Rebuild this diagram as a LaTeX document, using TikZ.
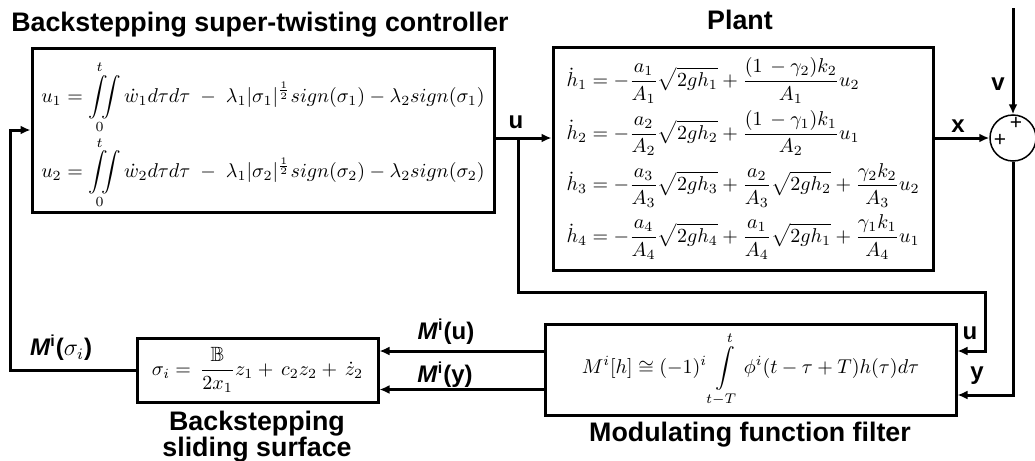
\documentclass[tikz,border=0pt]{standalone}
\usepackage[no-math]{fontspec}
\usepackage{amsmath,amssymb}
\newfontfamily\labfont{Liberation Sans}
\usetikzlibrary{positioning,calc,arrows.meta}

\begin{document}
\begin{tikzpicture}[x=0.5pt, y=-0.5pt,
        blk/.style = {draw, line width = 1.5pt, inner sep = 0pt},
        ttl/.style = {font = \labfont\bfseries\fontsize{13.4}{13}\selectfont, align = center},
        lbl/.style = {font = \labfont\bfseries\fontsize{12}{14}\selectfont, inner sep = 0pt},
        sig/.style = {line width = 1.5pt, -{Latex[length=5pt, width=4.5pt]}},
        wire/.style = {line width = 1.5pt}
    ]
        \useasboundingbox (0,0) rectangle (1035,461);

        \node[blk, minimum width = 231pt, minimum height = 82pt, font = \fontsize{9.8}{12}\selectfont] (ctrl) at (263,130) {\raisebox{-2.5pt}[\height][\depth]{$\begin{array}{@{}l@{}}
            \displaystyle u_1 = \iint\limits_0^t \dot{w}_1 d\tau d\tau \;-\; \lambda_1|\sigma_1|^{\frac{1}{2}}sign(\sigma_1) - \lambda_2 sign(\sigma_1)\\ \noalign{\vskip 1.5pt}
            \displaystyle u_2 = \iint\limits_0^t \dot{w}_2 d\tau d\tau \;-\; \lambda_1|\sigma_2|^{\frac{1}{2}}sign(\sigma_2) - \lambda_2 sign(\sigma_2)
        \end{array}$}};
        \node[blk, minimum width = 190pt, minimum height = 111.5pt, font = \fontsize{9.6}{12}\selectfont] (plant) at (743,158.5) {$\begin{array}{@{}l@{}}
            \displaystyle \dot{h}_1 = -\frac{a_1}{A_1}\sqrt{2gh_1} + \frac{(1\,-\gamma_2)k_2}{A_1}u_2\\[8.5pt]
            \displaystyle \dot{h}_2 = -\frac{a_2}{A_2}\sqrt{2gh_2} + \frac{(1\,-\gamma_1)k_1}{A_2}u_1\\[8.5pt]
            \displaystyle \dot{h}_3 = -\frac{a_3}{A_3}\sqrt{2gh_3} + \frac{a_2}{A_3}\sqrt{2gh_2} + \frac{\gamma_2k_2}{A_3}u_2\\[8.5pt]
            \displaystyle \dot{h}_4 = -\frac{a_4}{A_4}\sqrt{2gh_4} + \frac{a_1}{A_4}\sqrt{2gh_1} + \frac{\gamma_1k_1}{A_4}u_1
        \end{array}$};
        \node[blk, minimum width = 205.5pt, minimum height = 45.5pt, font = \fontsize{9.9}{12}\selectfont] (filt) at (750.5,369.5) {$\displaystyle M^i[h] \cong (-1)^i \int\limits_{t-T}^{t} \phi^i(t-\tau+T)h(\tau)d\tau$};
        \node[blk, minimum width = 120.5pt, minimum height = 32pt, font = \fontsize{10.3}{12}\selectfont] (surf) at (257.5,370) {$\displaystyle \sigma_i = \,\frac{\mathbb{B}}{2x_1}z_1 + \,c_2z_2 + \,\dot{z}_2$};
        \node[circle, draw, line width = 0.75pt, minimum size = 23pt, inner sep = 0pt] (sum) at (1013,138) {};
        \node[lbl, font = \labfont\fontsize{10.5}{12}\selectfont] (ptop) at (1016,123) {+};
        \node[lbl, font = \labfont\fontsize{10.5}{12}\selectfont] (pleft) at (1000,140) {+};

        \node[ttl] (tctrl) at (260,25) {Backstepping super-twisting controller};
        \node[ttl] (tplant) at (740,20) {Plant};
        \node[ttl] (tfilt) at (750,435) {Modulating function filter};
        \node[ttl] (tsurf) at (257,437) {Backstepping\\sliding surface};

        \node[lbl] (lu) at (516,122) {u};
        \node[lbl] (lx) at (958,126) {x};
        \node[lbl] (lv) at (998,84) {v};
        \node[lbl] (lu2) at (970,333) {u};
        \node[lbl] (ly) at (977,376) {y};
        \node[lbl] (lmu) at (446,332) {\textit{M}\textsuperscript{i}(u)};
        \node[lbl] (lmy) at (445,375) {\textit{M}\textsuperscript{i}(y)};
        \node[lbl] (lms) at (61,348) {\textit{M}\textsuperscript{i}($\sigma_i$)};

        \coordinate (ubr) at (518,138);
        \coordinate (ucor) at (985,292);
        \coordinate (vin) at (1013,8);
        \coordinate (fu) at ($(filt.east)+(0,-18.5)$);
        \coordinate (fy) at ($(filt.east)+(0,25.5)$);
        \coordinate (mu) at ($(filt.west)+(0,-18.5)$);
        \coordinate (my) at ($(filt.west)+(0,20)$);

        \draw[wire] (ctrl.east |- ubr) -- (ubr);
        \draw[sig] (ubr) -- (plant.west |- ubr);
        \draw[sig] (ubr) |- (ucor) |- (fu);
        \draw[sig] (plant.east |- sum) -- (sum.west);
        \draw[sig] (vin) -- (sum.north);
        \draw[sig] (sum.south) |- (fy);
        \draw[sig] (mu) -- (surf.east |- mu);
        \draw[sig] (my) -- (surf.east |- my);
        \draw[sig] (surf.west) -- ++(-125,0) |- (ctrl.west);
    \end{tikzpicture}
\end{document}
